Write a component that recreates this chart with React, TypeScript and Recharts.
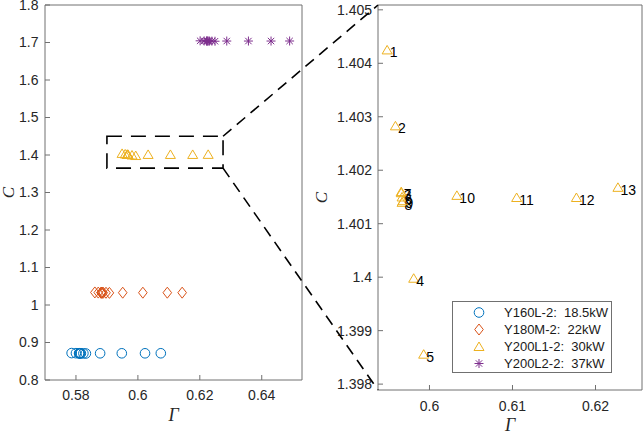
import React from "react"
import {
  ScatterChart,
  Scatter,
  XAxis,
  YAxis,
  ReferenceArea,
  Legend
} from "recharts"

// point numbers, same order in every series
const pointIds = [1, 2, 3, 4, 5, 6, 7, 8, 9, 10, 11, 12, 13]

// Y160L-2 18.5kW
const gammaY160L = [0.5786, 0.5800, 0.5810, 0.5824, 0.5832, 0.5812, 0.5811, 0.5814, 0.5816, 0.5878, 0.5948, 0.6023, 0.6074]
const cY160L = [0.8718, 0.8715, 0.8712, 0.8710, 0.8707, 0.8712, 0.8713, 0.8711, 0.8711, 0.8712, 0.8712, 0.8712, 0.8713]

// Y180M-2 22kW
const gammaY180M = [0.5861, 0.5872, 0.5881, 0.5897, 0.5908, 0.5883, 0.5882, 0.5885, 0.5888, 0.5951, 0.6016, 0.6095, 0.6143]
const cY180M = [1.0335, 1.0331, 1.0328, 1.0326, 1.0323, 1.0328, 1.0329, 1.0327, 1.0327, 1.0328, 1.0328, 1.0328, 1.0329]

// Y200L1-2 30kW (also the zoomed panel)
const gammaY200L1 = [0.5949, 0.5959, 0.5966, 0.5981, 0.5993, 0.5967, 0.5966, 0.5967, 0.5968, 0.6033, 0.6105, 0.6177, 0.6227]
const cY200L1 = [1.40425, 1.40283, 1.40158, 1.39998, 1.39856, 1.4015, 1.4016, 1.4014, 1.40143, 1.40153, 1.40149, 1.40149, 1.40168]

// Y200L2-2 37kW
const gammaY200L2 = [0.6201, 0.6214, 0.6222, 0.6239, 0.6249, 0.6224, 0.6223, 0.6227, 0.6231, 0.6287, 0.6357, 0.6430, 0.6490]
const cY200L2 = [1.7045, 1.7042, 1.7039, 1.7037, 1.7034, 1.7039, 1.7040, 1.7038, 1.7038, 1.7039, 1.7039, 1.7039, 1.7040]

const seriesNames = ["Y160L-2:\u00a0 18.5kW", "Y180M-2:\u00a0 22kW", "Y200L1-2:\u00a0 30kW", "Y200L2-2:\u00a0 37kW"]
const seriesColors = ["#0072BD", "#D95319", "#EDB120", "#7E2F8E"]
const seriesMarkers = ["circle", "diamond", "triangle", "asterisk"]

const leftXTicks = [0.58, 0.6, 0.62, 0.64]
const leftYTicks = [0.8, 0.9, 1, 1.1, 1.2, 1.3, 1.4, 1.5, 1.6, 1.7, 1.8]
const rightXTicks = [0.6, 0.61, 0.62]
const rightYTicks = [1.398, 1.399, 1.4, 1.401, 1.402, 1.403, 1.404, 1.405]

const leftXDomain = [0.57, 0.653]
const leftYDomain = [0.8, 1.8]
const rightXDomain = [0.5938, 0.6256]
const rightYDomain = [1.39789, 1.40509]

// dashed box around the zoomed region
const zoomBoxX = [0.59, 0.6275]
const zoomBoxY = [1.365, 1.45]

const FONT = "'Liberation Sans', Arial, Helvetica, sans-serif"
const SERIF = "'Liberation Serif', 'Times New Roman', serif"
const AXIS = "#707070"

const toRows = (g: number[], c: number[]) =>
  g.map((v, i) => ({ g: v, c: c[i], id: pointIds[i] }))

const seriesRows = [
  toRows(gammaY160L, cY160L),
  toRows(gammaY180M, cY180M),
  toRows(gammaY200L1, cY200L1),
  toRows(gammaY200L2, cY200L2)
]

// layout of the two panels
const LEFT = { x: 0, width: 320, height: 432, margin: { top: 5, right: 18, bottom: 22, left: 0 }, yW: 45, xH: 30 }
const RIGHT = { x: 305, width: 338, height: 432, margin: { top: 5, right: 1, bottom: 12, left: 0 }, yW: 73, xH: 30 }

const plotBox = (p: typeof LEFT) => ({
  x0: p.x + p.margin.left + p.yW,
  x1: p.x + p.width - p.margin.right,
  y0: p.margin.top,
  y1: p.height - p.margin.bottom - p.xH
})

function drawMarker(kind: string, cx: number, cy: number, color: string) {
  const common = { fill: "none", stroke: color, strokeWidth: 1 }
  if (kind === "circle") return <circle cx={cx} cy={cy} r={4.8} {...common} />
  if (kind === "diamond")
    return <path d={`M${cx},${cy - 5.5}L${cx + 4.3},${cy}L${cx},${cy + 5.5}L${cx - 4.3},${cy}Z`} {...common} />
  if (kind === "triangle")
    return <path d={`M${cx},${cy - 4.5}L${cx + 5},${cy + 4}L${cx - 5},${cy + 4}Z`} {...common} />
  const r = 4.5
  const d = 3.2
  return (
    <path
      d={`M${cx - r},${cy}L${cx + r},${cy}M${cx},${cy - r}L${cx},${cy + r}M${cx - d},${cy - d}L${cx + d},${cy + d}M${cx - d},${cy + d}L${cx + d},${cy - d}`}
      {...common}
    />
  )
}

const tickStyle = { fontSize: 14, fill: "#262626", fontFamily: FONT }

const gammaTitle = (dy: number) => (props: any) => {
  const vb = props.viewBox
  return (
    <text x={vb.x + vb.width / 2} y={vb.y + vb.height + dy} textAnchor="middle"
      fontFamily={SERIF} fontStyle="italic" fontSize={18} fill="#262626">Γ</text>
  )
}

const cTitle = (dx: number) => (props: any) => {
  const vb = props.viewBox
  const x = vb.x + dx
  const y = vb.y + vb.height / 2
  return (
    <text x={x} y={y} textAnchor="middle" dominantBaseline="central" transform={`rotate(-90, ${x}, ${y})`}
      fontFamily={SERIF} fontStyle="italic" fontSize={17} fill="#262626">C</text>
  )
}

function renderLegend() {
  return (
    <div style={{ width: 160, height: 72, border: `1px solid ${AXIS}`, background: "#fff", boxSizing: "border-box" }}>
      <svg width={158} height={70} style={{ display: "block" }}>
        {seriesNames.map((name, i) => (
          <g key={name}>
            {drawMarker(seriesMarkers[i], 26, 10.5 + 17 * i, seriesColors[i])}
            <text x={51} y={10.5 + 17 * i} dominantBaseline="central" fontFamily={FONT} fontSize={13} fill="#1a1a1a">
              {name}
            </text>
          </g>
        ))}
      </svg>
    </div>
  )
}

function LeftPanel() {
  return (
    <ScatterChart width={LEFT.width} height={LEFT.height} margin={LEFT.margin}>
      <XAxis xAxisId="b" type="number" dataKey="g" domain={leftXDomain} ticks={leftXTicks} interval={0}
        allowDataOverflow height={LEFT.xH} stroke={AXIS} tickSize={-5} tickMargin={15} tick={tickStyle}
        label={gammaTitle(11)} />
      <XAxis xAxisId="t" orientation="top" type="number" domain={leftXDomain} ticks={leftXTicks} interval={0}
        allowDataOverflow mirror stroke={AXIS} tickSize={5} tick={false} />
      <YAxis yAxisId="l" type="number" dataKey="c" domain={leftYDomain} ticks={leftYTicks} interval={0}
        allowDataOverflow width={LEFT.yW} stroke={AXIS} tickSize={-5} tickMargin={11.5} tick={tickStyle}
        label={cTitle(8)} />
      <YAxis yAxisId="r" orientation="right" type="number" domain={leftYDomain} ticks={leftYTicks} interval={0}
        allowDataOverflow mirror stroke={AXIS} tickSize={5} tick={false} />
      <ReferenceArea xAxisId="b" yAxisId="l" x1={zoomBoxX[0]} x2={zoomBoxX[1]} y1={zoomBoxY[0]} y2={zoomBoxY[1]}
        fill="none" stroke="#000" strokeWidth={1.6} strokeDasharray="15 9" ifOverflow="visible" />
      {seriesRows.map((rows, i) => (
        <Scatter key={seriesNames[i]} xAxisId="b" yAxisId="l" data={rows} isAnimationActive={false}
          shape={(p: any) => drawMarker(seriesMarkers[i], p.cx, p.cy, seriesColors[i])} />
      ))}
    </ScatterChart>
  )
}

function RightPanel() {
  return (
    <ScatterChart width={RIGHT.width} height={RIGHT.height} margin={RIGHT.margin}>
      <XAxis xAxisId="b" type="number" dataKey="g" domain={rightXDomain} ticks={rightXTicks} interval={0}
        allowDataOverflow height={RIGHT.xH} stroke={AXIS} tickSize={-5} tickMargin={16} tick={tickStyle}
        label={gammaTitle(11)} />
      <XAxis xAxisId="t" orientation="top" type="number" domain={rightXDomain} ticks={rightXTicks} interval={0}
        allowDataOverflow mirror stroke={AXIS} tickSize={5} tick={false} />
      <YAxis yAxisId="l" type="number" dataKey="c" domain={rightYDomain} ticks={rightYTicks} interval={0}
        allowDataOverflow width={RIGHT.yW} stroke={AXIS} tickSize={-5} tickMargin={11} tick={tickStyle}
        label={cTitle(16)} />
      <YAxis yAxisId="r" orientation="right" type="number" domain={rightYDomain} ticks={rightYTicks} interval={0}
        allowDataOverflow mirror stroke={AXIS} tickSize={5} tick={false} />
      <Scatter xAxisId="b" yAxisId="l" data={seriesRows[2]} isAnimationActive={false}
        shape={(p: any) => (
          <g>
            {drawMarker("triangle", p.cx, p.cy, seriesColors[2])}
            <text x={p.cx + 2.5} y={p.cy + 2.5} dominantBaseline="central" fontFamily={FONT} fontSize={14} fill="#000">
              {p.payload.id}
            </text>
          </g>
        )} />
      <Legend layout="vertical" align="center" verticalAlign="middle" content={renderLegend}
        wrapperStyle={{ left: 147, top: 301, width: 160, height: 72 }} />
    </ScatterChart>
  )
}

export default function App() {
  const lb = plotBox(LEFT)
  const rb = plotBox(RIGHT)
  const lx = (g: number) => lb.x0 + ((g - leftXDomain[0]) / (leftXDomain[1] - leftXDomain[0])) * (lb.x1 - lb.x0)
  const ly = (c: number) => lb.y0 + ((leftYDomain[1] - c) / (leftYDomain[1] - leftYDomain[0])) * (lb.y1 - lb.y0)

  return (
    <div style={{ position: "absolute", left: 0, top: 0, width: 643, height: 432, background: "#fff", overflow: "hidden" }}>
      <div style={{ position: "absolute", left: LEFT.x, top: 0 }}>
        <LeftPanel />
      </div>
      <div style={{ position: "absolute", left: RIGHT.x, top: 0 }}>
        <RightPanel />
      </div>
      {/* connectors from the dashed box to the zoomed panel */}
      <svg width={643} height={432} style={{ position: "absolute", left: 0, top: 0, pointerEvents: "none" }}>
        <line x1={lx(zoomBoxX[1])} y1={ly(zoomBoxY[1])} x2={rb.x0} y2={rb.y0}
          stroke="#000" strokeWidth={1.6} strokeDasharray="11 7" />
        <line x1={lx(zoomBoxX[1])} y1={ly(zoomBoxY[0])} x2={rb.x0} y2={rb.y1}
          stroke="#000" strokeWidth={1.6} strokeDasharray="11 7" />
      </svg>
    </div>
  )
}
